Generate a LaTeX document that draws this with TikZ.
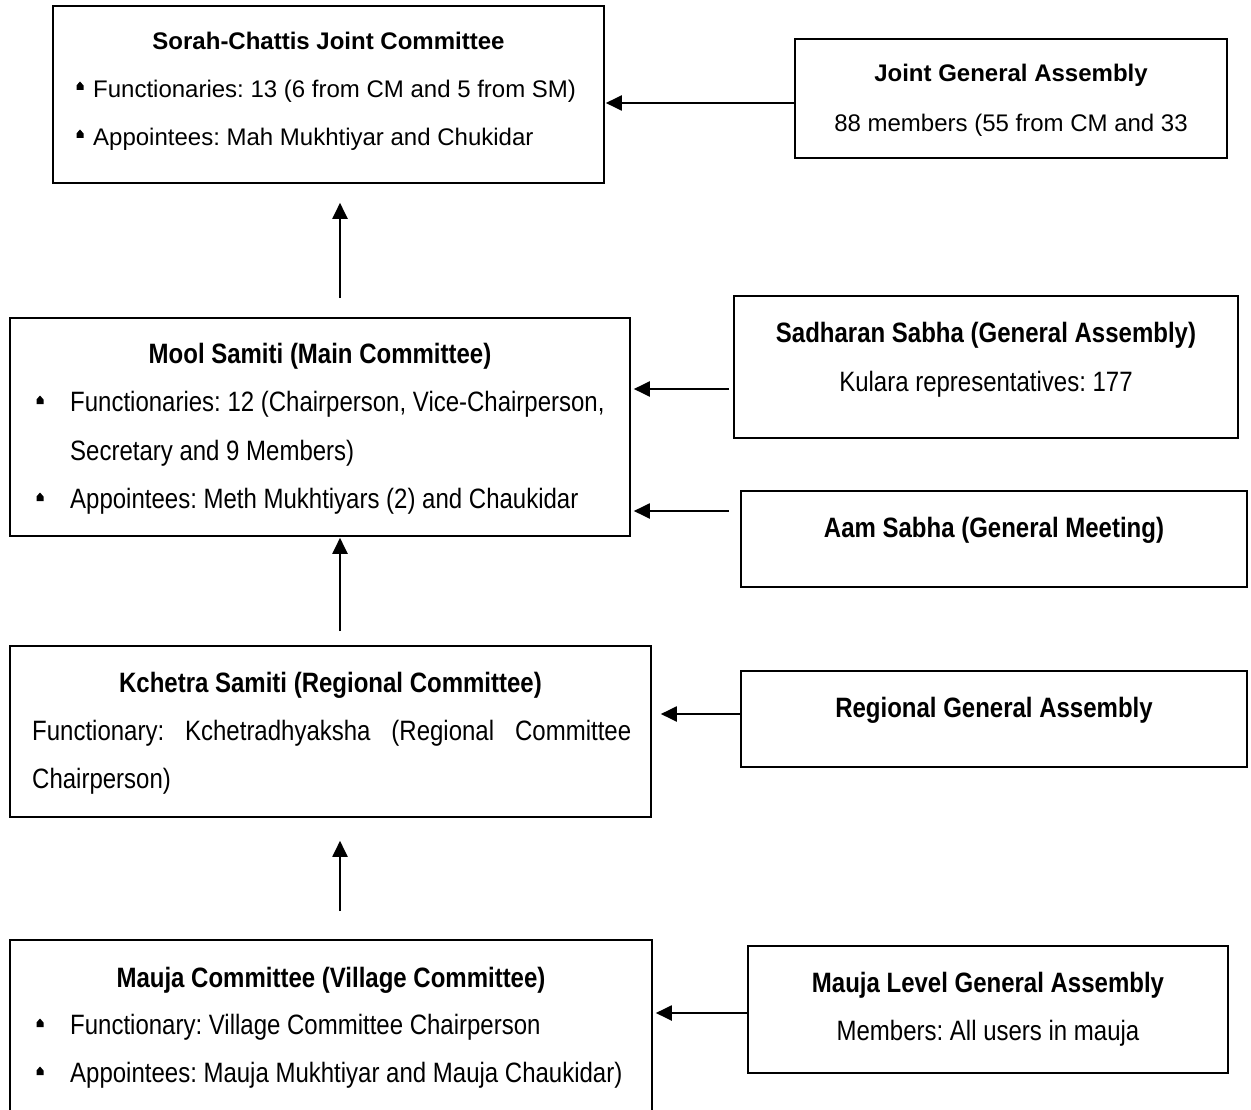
\documentclass[tikz,border=0pt]{standalone}
\usepackage{fontspec}
\setmainfont{Liberation Sans}
\newfontfamily\tallfont[FakeStretch=0.857]{Liberation Sans}
\usetikzlibrary{arrows.meta}
\frenchspacing

\begin{document}
\begin{tikzpicture}[x=1pt, y=-1pt,
	box/.style={draw, line width=1.6pt, inner sep=0pt},
	upper/.style={font=\fontsize{24}{24}\selectfont},
	lower/.style={font=\tallfont\fontsize{28}{28}\selectfont},
	line/.style={inner sep=0pt, anchor=base west},
	head/.style={inner sep=0pt, anchor=base},
	arr/.style={line width=2pt, -{Triangle[length=16pt, width=15pt]}},
	bulletmark/.pic={\fill (-3.5,4) -- (3.5,4) -- (3.5,-0.5) -- (0,-4.5) -- (-3.5,-0.5) -- cycle;}]
	\useasboundingbox (0,0) rectangle (1251,1110);
	% boxes
	\node[box, minimum width=551pt, minimum height=177pt] (sorah) at (328.5,94.5) {};
	\node[box, minimum width=432pt, minimum height=119pt] (jga) at (1011,98.5) {};
	\node[box, minimum width=620pt, minimum height=218pt] (mool) at (320,427) {};
	\node[box, minimum width=504pt, minimum height=142pt] (sadharan) at (986,367) {};
	\node[box, minimum width=506pt, minimum height=96pt] (aam) at (994,539) {};
	\node[box, minimum width=641pt, minimum height=171pt] (kchetra) at (330.5,731.5) {};
	\node[box, minimum width=506pt, minimum height=96pt] (rga) at (994,719) {};
	\node[box, minimum width=642pt, minimum height=190pt] (mauja) at (331,1035) {};
	\node[box, minimum width=480pt, minimum height=127pt] (mlga) at (988,1009.5) {};
	% Sorah-Chattis
	\node[head, upper] (sorah-t) at (328.5,50) {\bfseries Sorah-Chattis Joint Committee};
	\pic at (80,86) {bulletmark};
	\node[line, upper] (sorah-1) at (93,98) {Functionaries: 13 (6 from CM and 5 from SM)};
	\pic at (80,134) {bulletmark};
	\node[line, upper] (sorah-2) at (93,146) {Appointees: Mah Mukhtiyar and Chukidar};
	\node[head, upper] (jga-t) at (1011,82) {\bfseries Joint General Assembly};
	\node[head, upper] (jga-1) at (1011,132) {88 members (55 from CM and 33};
	% Mool Samiti
	\node[head, lower] (mool-t) at (320,363) {\bfseries Mool Samiti (Main Committee)};
	\pic at (40,400) {bulletmark};
	\node[line, lower] (mool-1) at (70,411) {Functionaries: 12 (Chairperson, Vice-Chairperson,};
	\node[line, lower] (mool-2) at (70,460) {Secretary and 9 Members)};
	\pic at (40,497) {bulletmark};
	\node[line, lower] (mool-3) at (70,508) {Appointees: Meth Mukhtiyars (2) and Chaukidar};
	\node[head, lower] (sadharan-t) at (986,342) {\bfseries Sadharan Sabha (General Assembly)};
	\node[head, lower] (sadharan-1) at (986,391) {Kulara representatives: 177};
	\node[head, lower] (aam-t) at (994,537) {\bfseries Aam Sabha (General Meeting)};
	% Kchetra Samiti
	\node[head, lower] (kchetra-t) at (330.5,692) {\bfseries Kchetra Samiti (Regional Committee)};
	\node[line, lower] (kchetra-1) at (32,740) {\makebox[599pt][s]{Functionary: Kchetradhyaksha (Regional Committee}};
	\node[line, lower] (kchetra-2) at (32,788) {Chairperson)};
	\node[head, lower] (rga-t) at (994,717) {\bfseries Regional General Assembly};
	% Mauja
	\node[head, lower] (mauja-t) at (331,987) {\bfseries Mauja Committee (Village Committee)};
	\pic at (40,1023) {bulletmark};
	\node[line, lower] (mauja-1) at (70,1034) {Functionary: Village Committee Chairperson};
	\pic at (40,1071) {bulletmark};
	\node[line, lower] (mauja-2) at (70,1082) {Appointees: Mauja Mukhtiyar and Mauja Chaukidar)};
	\node[head, lower] (mlga-t) at (988,992) {\bfseries Mauja Level General Assembly};
	\node[head, lower] (mlga-1) at (988,1040) {Members: All users in mauja};
	% arrows
	\coordinate (axis) at (340,0);
	\coordinate (y1) at (0,103);
	\coordinate (y2) at (0,389);
	\coordinate (y3) at (0,511);
	\coordinate (y4) at (0,714);
	\coordinate (y5) at (0,1013);
	\draw[arr, shorten <=19pt, shorten >=19pt] (mool.north -| axis) -- (sorah.south -| axis);
	\draw[arr, shorten <=14pt, shorten >=1pt] (kchetra.north -| axis) -- (mool.south -| axis);
	\draw[arr, shorten <=28pt, shorten >=23pt] (mauja.north -| axis) -- (kchetra.south -| axis);
	\draw[arr, shorten >=1pt] (jga.west |- y1) -- (sorah.east |- y1);
	\draw[arr, shorten <=4pt, shorten >=3pt] (sadharan.west |- y2) -- (mool.east |- y2);
	\draw[arr, shorten <=11pt, shorten >=3pt] (aam.west |- y3) -- (mool.east |- y3);
	\draw[arr, shorten >=9pt] (rga.west |- y4) -- (kchetra.east |- y4);
	\draw[arr, shorten >=3pt] (mlga.west |- y5) -- (mauja.east |- y5);
\end{tikzpicture}
\end{document}
